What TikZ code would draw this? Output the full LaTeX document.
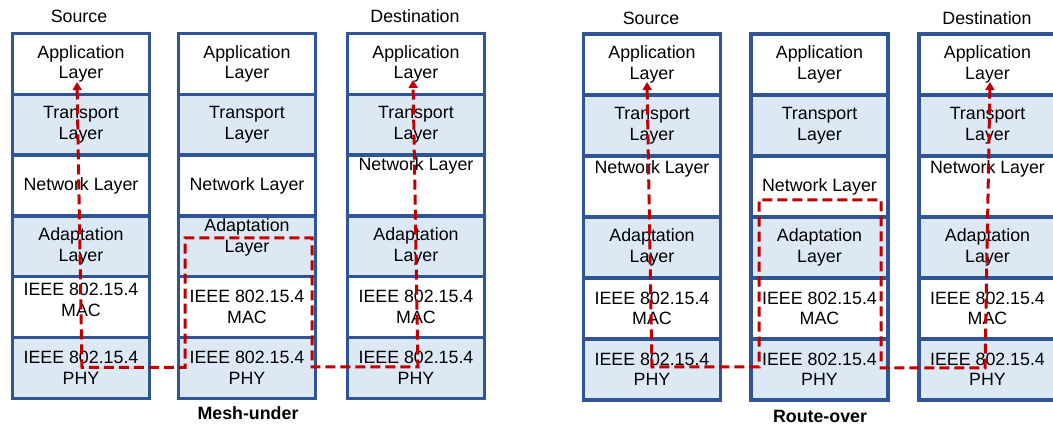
\documentclass[tikz,border=0pt]{standalone}
\usepackage{fontspec}
\setmainfont{Liberation Sans}
\usetikzlibrary{arrows.meta}
\definecolor{stackblue}{RGB}{47,85,151}
\definecolor{cellfill}{RGB}{221,232,245}
\definecolor{pathred}{RGB}{192,0,0}
\begin{document}
\begin{tikzpicture}[x=1pt,y=-1pt,
  txt/.style={font=\fontsize{17.8}{20.5}\selectfont, align=center, inner sep=0pt},
  cell/.style={txt, draw=stackblue, line width=3.5pt, minimum width=137pt, minimum height=60.8pt},
  wcell/.style={cell, fill=white},
  bcell/.style={cell, fill=cellfill},
  captxt/.style={font=\bfseries\fontsize{17.8}{20.5}\selectfont, inner sep=0pt},
  route/.style={draw=pathred, line width=3pt, dash pattern=on 10pt off 5pt,
    {Triangle[width=9pt,length=8pt]}-{Triangle[width=9pt,length=8pt]}}
]
\useasboundingbox (0,0) rectangle (1053,427);
\clip (0,0) rectangle (1053,427);

% ---------------- Mesh-under ----------------
\node[txt] (srcL) at (79,16) {Source};
\node[txt] (dstL) at (415,16) {Destination};
\node[captxt] (mesh) at (248,413) {Mesh-under};

% stack 1
\node[wcell] (a1) at (81,63.9) {Application\\Layer};
\node[bcell] (t1) at (81,124.7) {Transport\\Layer};
\node[wcell] (n1) at (81,185.5) {Network Layer};
\node[bcell] (d1) at (81,246.3) {Adaptation\\Layer};
\node[wcell, label={[txt,yshift=7pt]center:IEEE 802.15.4\\MAC}] (m1) at (81,307.1) {};
\node[bcell] (p1) at (81,367.9) {IEEE 802.15.4\\PHY};

% stack 2
\node[wcell] (a2) at (247,63.9) {Application\\Layer};
\node[bcell] (t2) at (247,124.7) {Transport\\Layer};
\node[wcell] (n2) at (247,185.5) {Network Layer};
\node[bcell, label={[txt,yshift=9pt]center:Adaptation\\Layer}] (d2) at (247,246.3) {};
\node[wcell] (m2) at (247,307.1) {IEEE 802.15.4\\MAC};
\node[bcell] (p2) at (247,367.9) {IEEE 802.15.4\\PHY};

% stack 3
\node[wcell] (a3) at (416,63.9) {Application\\Layer};
\node[bcell] (t3) at (416,124.7) {Transport\\Layer};
\node[wcell, label={[txt,yshift=20pt]center:Network Layer}] (n3) at (416,185.5) {};
\node[bcell] (d3) at (416,246.3) {Adaptation\\Layer};
\node[wcell] (m3) at (416,307.1) {IEEE 802.15.4\\MAC};
\node[bcell] (p3) at (416,367.9) {IEEE 802.15.4\\PHY};

% ---------------- Route-over ----------------
\node[txt] (srcR) at (651,18) {Source};
\node[txt] (dstR) at (987,18.5) {Destination};
\node[captxt] (route) at (820,416) {Route-over};

% stack 4
\node[wcell] (a4) at (652,64.5) {Application\\Layer};
\node[bcell] (t4) at (652,125.5) {Transport\\Layer};
\node[wcell, label={[txt,yshift=18pt]center:Network Layer}] (n4) at (652,186.5) {};
\node[bcell] (d4) at (652,247.5) {Adaptation\\Layer};
\node[wcell] (m4) at (652,308.5) {IEEE 802.15.4\\MAC};
\node[bcell] (p4) at (652,369.5) {IEEE 802.15.4\\PHY};

% stack 5
\node[wcell] (a5) at (819.5,64.5) {Application\\Layer};
\node[bcell] (t5) at (819.5,125.5) {Transport\\Layer};
\node[wcell] (n5) at (819.5,186.5) {Network Layer};
\node[bcell] (d5) at (819.5,247.5) {Adaptation\\Layer};
\node[wcell] (m5) at (819.5,308.5) {IEEE 802.15.4\\MAC};
\node[bcell] (p5) at (819.5,369.5) {IEEE 802.15.4\\PHY};

% stack 6
\node[wcell] (a6) at (987.5,64.5) {Application\\Layer};
\node[bcell] (t6) at (987.5,125.5) {Transport\\Layer};
\node[wcell, label={[txt,yshift=18pt]center:Network Layer}] (n6) at (987.5,186.5) {};
\node[bcell] (d6) at (987.5,247.5) {Adaptation\\Layer};
\node[wcell] (m6) at (987.5,308.5) {IEEE 802.15.4\\MAC};
\node[bcell] (p6) at (987.5,369.5) {IEEE 802.15.4\\PHY};

% ---------------- red paths ----------------
\coordinate (mA) at (77,82);
\coordinate (mB) at (82,367.5);
\coordinate (mC) at (185,367.5);
\coordinate (mD) at (185,238);
\coordinate (mE) at (312,238);
\coordinate (mF) at (312,367);
\coordinate (mG) at (418,367);
\coordinate (mH) at (413,80);
\draw[route] (mA) -- (mB) -- (mC) -- (mD) -- (mE) -- (mF) -- (mG) -- (mH);

\coordinate (rA) at (647,82);
\coordinate (rB) at (652,367);
\coordinate (rC) at (759,367);
\coordinate (rD) at (759,200);
\coordinate (rE) at (881,200);
\coordinate (rF) at (881,368);
\coordinate (rG) at (985,368);
\coordinate (rH) at (990,82);
\draw[route] (rA) -- (rB) -- (rC) -- (rD) -- (rE) -- (rF) -- (rG) -- (rH);
\end{tikzpicture}
\end{document}
